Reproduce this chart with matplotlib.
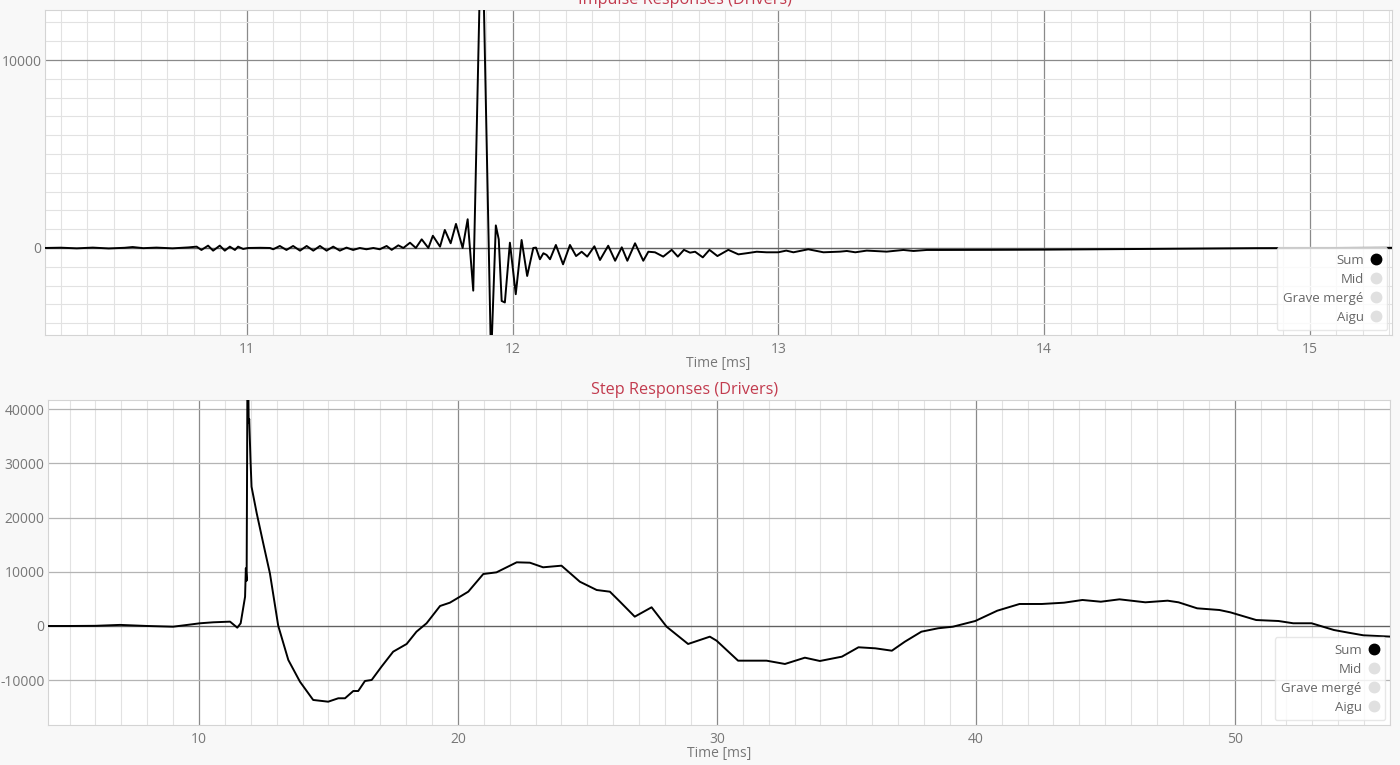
import numpy as np
import matplotlib.pyplot as plt
from matplotlib.lines import Line2D
from matplotlib.ticker import MultipleLocator

plt.rcParams['font.family'] = ['Open Sans', 'DejaVu Sans']
plt.rcParams['axes.unicode_minus'] = False

# impulse response (Sum)
imp_time = [10.24, 10.30, 10.36, 10.42, 10.48, 10.54, 10.57, 10.61, 10.66, 10.72,
            10.78, 10.811, 10.829, 10.854, 10.873, 10.898, 10.917, 10.936, 10.955, 10.967,
            10.986, 11.005, 11.05, 11.087, 11.099, 11.124, 11.149, 11.174, 11.2, 11.225,
            11.25, 11.275, 11.3, 11.325, 11.35, 11.375, 11.4, 11.425, 11.45, 11.476,
            11.50, 11.526, 11.545, 11.57, 11.589, 11.614, 11.636, 11.658, 11.683, 11.70,
            11.727, 11.745, 11.767, 11.787, 11.812, 11.831, 11.852, 11.884, 11.919, 11.937,
            11.948, 11.959, 11.971, 11.99, 12.012, 12.034, 12.055, 12.078, 12.088, 12.103,
            12.116, 12.128, 12.141, 12.163, 12.19, 12.216, 12.239, 12.26, 12.281, 12.308,
            12.329, 12.36, 12.386, 12.411, 12.432, 12.461, 12.492, 12.511, 12.536, 12.567,
            12.599, 12.622, 12.645, 12.668, 12.687, 12.716, 12.741, 12.771, 12.812, 12.85,
            12.881, 12.919, 12.956, 13.0, 13.03, 13.057, 13.113, 13.17, 13.233, 13.258,
            13.29, 13.333, 13.408, 13.471, 13.509, 13.559, 13.61, 13.8, 14.0, 14.2,
            14.5, 14.8, 15.1, 15.31]
imp_value = [0, 15, -20, 20, -25, 10, 50, -10, 20, -20,
             30, 71, -106, 124, -142, 124, -142, 71, -106, 71,
             -53, 0, 10, 0, -70, 106, -106, 106, -142, 106,
             -142, 106, -142, 71, -142, 20, -106, 0, -70, 0,
             -70, 106, -100, 140, 0, 280, 0, 460, 0, 650,
             70, 960, 250, 1280, 0, 1530, -2270, 18600, -6000, 1200,
             460, -2820, -2900, 280, -2460, 425, -1490, 0, 20, -600,
             -280, -370, -600, 160, -870, 160, -430, -200, -460, 90,
             -640, 120, -680, 35, -680, 250, -680, -200, -230, -460,
             -100, -460, -100, -250, -200, -500, -100, -430, -100, -340,
             -280, -200, -230, -230, -140, -230, -70, -230, -195, -160,
             -230, -140, -195, -106, -160, -106, -106, -100, -90, -70,
             -40, -10, 0, 10]

# step response (Sum)
step_time = [4.2, 5.0, 6.0, 6.95, 8.0, 9.0, 9.52, 10.04, 10.55, 11.2,
             11.48, 11.61, 11.78, 11.81, 11.84, 11.88, 11.92, 11.94, 11.99, 12.03,
             12.23, 12.48, 12.74, 13.06, 13.45, 13.9, 14.41, 14.99, 15.38, 15.64,
             15.96, 16.15, 16.41, 16.67, 17.05, 17.50, 18.02, 18.40, 18.79, 19.31,
             19.69, 20.08, 20.40, 20.98, 21.49, 22.27, 22.78, 23.29, 24.0, 24.71,
             25.36, 25.87, 26.26, 26.83, 27.48, 28.06, 28.89, 29.73, 29.99, 30.82,
             31.92, 32.63, 33.40, 33.98, 34.83, 35.47, 36.12, 36.76, 37.26, 37.90,
             38.55, 39.12, 39.98, 40.83, 41.69, 42.55, 43.41, 44.12, 44.83, 45.55,
             46.55, 47.41, 47.83, 48.55, 49.41, 49.83, 50.83, 51.69, 52.26, 52.97,
             53.83, 54.40, 54.97, 56.05]
step_value = [0, 0, 30, 200, 0, -130, 180, 500, 680, 800,
              -310, 500, 5400, 10650, 8360, 56000, 37500, 38200, 30600, 25700,
              20800, 15300, 9700, 50, -6270, -10280, -13650, -13970, -13340, -13340,
              -12000, -12000, -10150, -9960, -7500, -4740, -3320, -1050, 500, 3690,
              4300, 5410, 6330, 9590, 9900, 11750, 11680, 10830, 11130, 8170,
              6640, 6330, 4480, 1720, 3450, -130, -3320, -1970, -2710, -6400,
              -6400, -7010, -5850, -6460, -5660, -3930, -4120, -4560, -2900, -1050,
              -420, -130, 920, 2820, 4060, 4060, 4300, 4800, 4480, 4920,
              4370, 4670, 4370, 3260, 2950, 2520, 1100, 920, 500, 500,
              -740, -1240, -1720, -1970]

series = ['Sum', 'Mid', 'Grave mergé', 'Aigu']
series_colors = ['#000000', '#e0e0e0', '#e0e0e0', '#e0e0e0']

title_color = '#c23b4e'
text_color = '#777777'

fig = plt.figure(figsize=(14, 7.65), dpi=100, facecolor='#f8f8f8')
ax1 = fig.add_axes([0.0321, 0.5621, 0.9622, 0.4248])
ax2 = fig.add_axes([0.0343, 0.0523, 0.9586, 0.4248])


def style(ax, title, title_x, xmaj, xmin, ymaj, ymin, ymaj_color):
    ax.set_facecolor('white')
    ax.xaxis.set_major_locator(MultipleLocator(xmaj))
    ax.xaxis.set_minor_locator(MultipleLocator(xmin))
    ax.yaxis.set_major_locator(MultipleLocator(ymaj))
    if ymin:
        ax.yaxis.set_minor_locator(MultipleLocator(ymin))
    ax.grid(True, which='minor', color='#e2e2e2', lw=0.8)
    ax.grid(True, which='major', axis='x', color='#8a8a8a', lw=0.9)
    ax.grid(True, which='major', axis='y', color=ymaj_color, lw=0.9)
    ax.axhline(0, color='#606060', lw=0.9, zorder=1.5)
    ax.set_axisbelow(True)
    ax.tick_params(which='both', length=0, labelsize=10, labelcolor=text_color)
    ax.tick_params(axis='x', pad=5)
    ax.tick_params(axis='y', pad=2.5)
    for s in ax.spines.values():
        s.set_color('#d4d4d4')
        s.set_linewidth(0.8)
    ax.set_xlabel('Time [ms]', color=text_color, fontsize=10, labelpad=-1)
    ax.set_title(title, color=title_color, fontsize=11.7, pad=4, x=title_x)
    handles = [Line2D([], [], ls='none', marker='o', markersize=7.5,
                      markerfacecolor=c, markeredgecolor=c) for c in series_colors]
    leg = ax.legend(handles, series, loc='lower right', markerfirst=False,
                    fontsize=9.5, handlelength=0.8, handletextpad=0.5,
                    labelspacing=0.45, borderaxespad=0.35, borderpad=0.5,
                    fancybox=True, framealpha=0.8, edgecolor='#e2e2e2')
    for t in leg.get_texts():
        t.set_color('#666666')


ax1.plot(imp_time, imp_value, color='black', lw=1.4, zorder=3)
ax1.set_xlim(10.24, 15.31)
ax1.set_ylim(-4630, 12660)
style(ax1, 'Impulse Responses (Drivers)', 0.475, 1, 0.1, 10000, 1000, '#8a8a8a')

ax2.plot(step_time, step_value, color='black', lw=1.4, zorder=3)
ax2.set_xlim(4.17, 56.0)
ax2.set_ylim(-18270, 41700)
style(ax2, 'Step Responses (Drivers)', 0.474, 10, 1, 10000, None, '#b4b4b4')

fig.savefig('out.png', dpi=100, facecolor=fig.get_facecolor())
